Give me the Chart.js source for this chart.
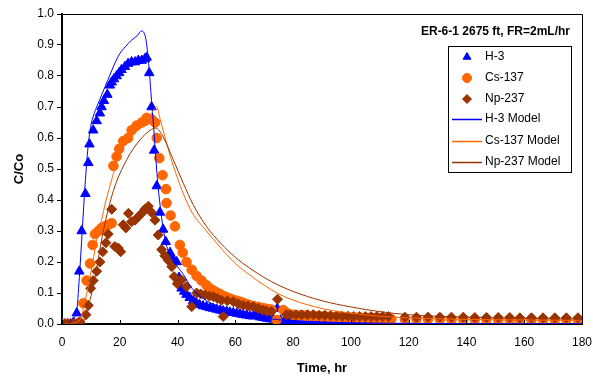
<!DOCTYPE html>
<html>
<head>
<meta charset="utf-8">
<script src="https://cdn.jsdelivr.net/npm/chart.js@4/dist/chart.umd.min.js"></script>
<style>
  html, body { margin: 0; padding: 0; background: #fff; }
  #wrap { width: 593px; height: 379px; position: relative; }
</style>
</head>
<body>
<div id="wrap"><canvas id="breakthroughChart"></canvas></div>
<script>
const chartTitle = "ER-6-1 2675 ft, FR=2mL/hr";
const xTicks = [0, 20, 40, 60, 80, 100, 120, 140, 160, 180];
const yTicks = [0.0, 0.1, 0.2, 0.3, 0.4, 0.5, 0.6, 0.7, 0.8, 0.9, 1.0];

// measured data
const h3Time = [0, 1, 2, 3, 4, 5.1, 6.0, 6.8, 8.1, 9.1, 9.5, 10.8, 12.0, 13.1, 13.7, 14.5, 15.7, 16.6, 17.2, 18.0,
    18.9, 19.8, 20.6, 21.8, 22.9, 24.1, 25.3, 26.4, 27.6, 28.7, 29.3, 30.2, 31.0, 31.9, 32.8, 33.9, 35.0, 35.9, 37.4, 38.5,
    39.7, 40.5, 41.4, 42.3, 43.1, 44.2, 45.4, 46.5, 47.6, 48.8, 50, 51.2, 52.3, 53.5, 54.7, 55.8, 57, 58.1, 59.3, 60.5,
    61.6, 62.7, 63.9, 65.1, 66.2, 67.4, 68.5, 69.7, 70.8, 72, 73.2, 74.5, 75.6, 77, 78.5, 80, 82, 84, 86, 88,
    90, 92, 94, 96, 98, 100, 102, 104, 106, 108, 110, 114, 118.7, 122.7, 126.7, 130.8, 134.8, 138.9, 142.9, 146.9,
    151, 155, 158.5, 162.5, 166.5, 170.6, 174.6, 178.6];
const h3Conc = [0, 0, 0, 0, 0.005, 0.035, 0.17, 0.30, 0.42, 0.52, 0.58, 0.625, 0.655, 0.68, 0.70, 0.72, 0.74, 0.77, 0.78, 0.79,
    0.80, 0.81, 0.82, 0.83, 0.84, 0.845, 0.845, 0.85, 0.85, 0.855, 0.86, 0.81, 0.70, 0.56, 0.445, 0.36, 0.305, 0.265, 0.23, 0.21,
    0.20, 0.15, 0.115, 0.105, 0.095, 0.085, 0.075, 0.068, 0.062, 0.058, 0.055, 0.052, 0.05, 0.047, 0.044, 0.042, 0.04, 0.038, 0.036, 0.034,
    0.032, 0.030, 0.028, 0.026, 0.025, 0.035, 0.022, 0.02, 0.018, 0.016, 0.015, 0.05, 0.012, 0.01, 0.008, 0.007, 0.006, 0.005, 0.005, 0.004,
    0.004, 0.003, 0.003, 0.003, 0.002, 0.002, 0.002, 0.002, 0.002, 0.002, 0.002, 0.001, 0, 0, 0, 0, 0, 0, 0, 0,
    0, 0, 0, 0, 0, 0, 0, 0];

const csTime = [0, 1, 2, 3, 4, 5, 6, 7.4, 8.5, 9.7, 10.6, 11.4, 12.6, 13.7, 14.9, 16.0, 17.2, 17.8, 18.9, 19.8,
    21.2, 22.9, 24.1, 25.8, 27.6, 28.7, 29.3, 31.0, 32.2, 32.8, 33.7, 34.8, 36.0, 36.2, 37.6, 39.1, 40.8, 41.8, 43.1, 44.9,
    46.6, 48.3, 50, 51.2, 52.4, 53.5, 54.7, 56, 57, 58.1, 59.3, 60.5, 61.6, 62.8, 64, 65.1, 66.3, 67.9, 69, 70.2,
    71.4, 72.5, 74.3, 76.6, 78, 80, 82, 84, 86, 88, 90, 92, 94, 96, 98, 100, 102, 104, 106, 108,
    110, 112, 114, 118.7, 122.7, 126.7, 130.8, 134.8, 138.9, 142.9, 146.9, 151, 155, 158.5, 162.5, 166.5, 170.6, 174.6, 178.6];
const csConc = [0, 0, 0, 0, 0, 0, 0.005, 0.067, 0.14, 0.195, 0.255, 0.29, 0.30, 0.31, 0.315, 0.32, 0.325, 0.51, 0.54, 0.565,
    0.59, 0.60, 0.625, 0.64, 0.65, 0.655, 0.665, 0.66, 0.65, 0.60, 0.535, 0.48, 0.435, 0.39, 0.35, 0.315, 0.255, 0.23, 0.20, 0.175,
    0.155, 0.14, 0.125, 0.115, 0.108, 0.102, 0.097, 0.09, 0.086, 0.082, 0.078, 0.075, 0.072, 0.068, 0.064, 0.06, 0.058, 0.055, 0.052, 0.05,
    0.048, 0.046, 0.013, 0.045, 0.035, 0.03, 0.028, 0.027, 0.026, 0.025, 0.024, 0.023, 0.022, 0.022, 0.021, 0.02, 0.02, 0.019, 0.019, 0.018,
    0.018, 0.017, 0.016, 0.015, 0.015, 0.015, 0.014, 0.014, 0.014, 0.014, 0.014, 0.013, 0.013, 0.013, 0.013, 0.013, 0.013, 0.013, 0.013];

const npTime = [0, 1, 2, 3, 4, 5, 6.2, 8.3, 9.1, 9.9, 10.8, 12.0, 13.1, 14.1, 15.2, 16.0, 17.2, 18.3, 19.5, 20.3,
    21.2, 22.1, 23.0, 24.1, 25.3, 26.4, 27.6, 28.7, 29.9, 31.0, 32.2, 33.3, 34.5, 35.6, 36.8, 38.0, 38.8, 39.9, 41.4, 43.1,
    44.9, 46.6, 48, 49.5, 51, 52.4, 53.8, 55.2, 55.8, 57.2, 59.3, 61, 62.7, 64.4, 66.2, 68, 69.5, 70.8, 72.5, 74.6,
    77.7, 79, 81, 83, 85, 87, 89, 91, 93, 95, 97, 99, 101, 103, 105, 107, 109, 111, 113, 118.7,
    122.7, 126.7, 130.8, 134.8, 138.9, 142.9, 146.9, 151, 155, 158.5, 162.5, 166.5, 170.6, 174.6, 178.6];
const npConc = [0, 0, 0, 0, 0, 0, 0.007, 0.03, 0.06, 0.115, 0.14, 0.17, 0.20, 0.233, 0.262, 0.29, 0.37, 0.25, 0.245, 0.233,
    0.32, 0.31, 0.357, 0.33, 0.335, 0.346, 0.357, 0.37, 0.38, 0.36, 0.335, 0.287, 0.24, 0.22, 0.205, 0.185, 0.153, 0.13, 0.142, 0.12,
    0.056, 0.10, 0.097, 0.094, 0.09, 0.088, 0.082, 0.077, 0.024, 0.075, 0.072, 0.065, 0.06, 0.058, 0.056, 0.05, 0.045, 0.042, 0.04, 0.08,
    0.03, 0.03, 0.03, 0.03, 0.03, 0.03, 0.028, 0.028, 0.027, 0.026, 0.025, 0.025, 0.024, 0.024, 0.024, 0.024, 0.024, 0.024, 0.024, 0.022,
    0.022, 0.022, 0.022, 0.022, 0.022, 0.021, 0.021, 0.021, 0.021, 0.02, 0.02, 0.02, 0.02, 0.02, 0.02];

// model curves
const h3ModelTime = [0, 2, 3, 4, 5, 6, 7, 8, 9, 10, 11, 12, 14, 16, 18, 20, 22, 24, 26, 27.5,
    29, 30, 31, 32, 33, 34, 35, 36, 37, 38, 40, 42, 45, 50, 55, 60, 70, 80, 100, 120, 140, 160, 180];
const h3ModelConc = [0, 0, 0.01, 0.02, 0.035, 0.15, 0.3, 0.45, 0.57, 0.64, 0.675, 0.70, 0.745, 0.79, 0.835, 0.872, 0.895, 0.915, 0.93, 0.945,
    0.92, 0.84, 0.72, 0.6, 0.47, 0.38, 0.31, 0.26, 0.23, 0.21, 0.185, 0.16, 0.115, 0.075, 0.055, 0.042, 0.02, 0.01, 0.004, 0.002, 0.001, 0.001, 0.001];

const csModelTime = [0, 6, 8, 10, 12, 13.7, 15, 17.2, 19.5, 23.5, 28, 31, 32.8, 34, 36, 38, 40, 42, 45, 50,
    55, 60, 65, 70, 75, 80, 90, 100, 110, 120, 140, 160, 180];
const csModelConc = [0, 0.01, 0.075, 0.165, 0.27, 0.335, 0.39, 0.465, 0.54, 0.60, 0.64, 0.68, 0.70, 0.66, 0.59, 0.525, 0.47, 0.42, 0.36, 0.30,
    0.245, 0.195, 0.158, 0.125, 0.097, 0.077, 0.05, 0.035, 0.025, 0.02, 0.015, 0.013, 0.012];

const npModelTime = [0, 7, 8, 10.8, 14.3, 17.8, 22.4, 27, 31, 32.5, 35, 38.5, 42, 45.4, 50, 55, 60, 65, 70, 75,
    80, 90, 100, 110, 120, 140, 160, 180];
const npModelConc = [0, 0, 0.024, 0.12, 0.30, 0.43, 0.53, 0.594, 0.628, 0.632, 0.604, 0.53, 0.454, 0.385, 0.315, 0.26, 0.215, 0.18, 0.15, 0.125,
    0.105, 0.075, 0.055, 0.04, 0.03, 0.022, 0.018, 0.016];

const FONT = "'Liberation Sans', Arial, sans-serif";

function toPoints(xs, ys) {
    const pts = [];
    for (let i = 0; i < xs.length; i++) {
        pts.push({ x: xs[i], y: ys[i] });
    }
    return pts;
}

// title + legend drawn inside the plot, plus inner x ticks and frame
const decorPlugin = {
    id: 'decor',
    afterDraw(chart) {
        const ctx = chart.ctx;
        const ca = chart.chartArea;
        const xs = chart.scales.x;
        ctx.save();

        // frame
        ctx.strokeStyle = '#000';
        ctx.lineWidth = 1;
        ctx.beginPath();
        ctx.moveTo(ca.left, ca.top + 0.5);
        ctx.lineTo(ca.right + 0.5, ca.top + 0.5);
        ctx.lineTo(ca.right + 0.5, ca.bottom);
        ctx.stroke();

        // inner x ticks
        xTicks.forEach(function (t) {
            const px = Math.round(xs.getPixelForValue(t)) + 0.5;
            ctx.beginPath();
            ctx.moveTo(px, ca.bottom);
            ctx.lineTo(px, ca.bottom - 4);
            ctx.stroke();
        });

        // title
        ctx.fillStyle = '#000';
        ctx.font = "bold 12px " + FONT;
        ctx.textAlign = 'right';
        ctx.textBaseline = 'middle';
        ctx.fillText(chartTitle, ca.right - 12, ca.top + 18);

        // legend box
        const bx = ca.right - 134, by = ca.top + 32, bw = 123, bh = 126;
        ctx.fillStyle = '#fff';
        ctx.fillRect(bx, by, bw, bh);
        ctx.strokeStyle = '#000';
        ctx.strokeRect(bx + 0.5, by + 0.5, bw, bh);

        const rows = [11, 32, 53, 73, 95, 116];
        chart.data.datasets.forEach(function (ds, i) {
            const cy = by + rows[i];
            if (ds.showLine) {
                ctx.strokeStyle = ds.borderColor;
                ctx.lineWidth = 1.5;
                ctx.beginPath();
                ctx.moveTo(bx + 4, cy + 0.5);
                ctx.lineTo(bx + 34, cy + 0.5);
                ctx.stroke();
            } else {
                ctx.fillStyle = ds.backgroundColor;
                ctx.strokeStyle = ds.borderColor;
                ctx.lineWidth = 1;
                Chart.helpers.drawPoint(ctx, {
                    pointStyle: ds.pointStyle,
                    radius: 4.5,
                    rotation: 0,
                    borderWidth: 1
                }, bx + 19, cy);
            }
            ctx.fillStyle = '#000';
            ctx.font = "12px " + FONT;
            ctx.textAlign = 'left';
            ctx.textBaseline = 'middle';
            ctx.fillText(ds.label, bx + 37, cy);
        });
        ctx.restore();
    }
};

new Chart(document.getElementById('breakthroughChart'), {
    type: 'scatter',
    data: {
        datasets: [
            {
                label: 'H-3',
                data: toPoints(h3Time, h3Conc),
                pointStyle: 'triangle',
                pointRadius: 5.5,
                backgroundColor: '#0000FF',
                borderColor: '#0000FF',
                borderWidth: 1,
                order: 6
            },
            {
                label: 'Cs-137',
                data: toPoints(csTime, csConc),
                pointStyle: 'circle',
                pointRadius: 4.8,
                backgroundColor: '#FF6600',
                borderColor: '#FF6600',
                borderWidth: 1,
                order: 5
            },
            {
                label: 'Np-237',
                data: toPoints(npTime, npConc),
                pointStyle: 'rectRot',
                pointRadius: 5,
                backgroundColor: '#993300',
                borderColor: '#993300',
                borderWidth: 1,
                order: 4
            },
            {
                label: 'H-3 Model',
                data: toPoints(h3ModelTime, h3ModelConc),
                showLine: true,
                pointRadius: 0,
                borderColor: '#0000FF',
                backgroundColor: '#0000FF',
                borderWidth: 1,
                cubicInterpolationMode: 'monotone',
                order: 3
            },
            {
                label: 'Cs-137 Model',
                data: toPoints(csModelTime, csModelConc),
                showLine: true,
                pointRadius: 0,
                borderColor: '#FF6600',
                backgroundColor: '#FF6600',
                borderWidth: 1,
                cubicInterpolationMode: 'monotone',
                order: 2
            },
            {
                label: 'Np-237 Model',
                data: toPoints(npModelTime, npModelConc),
                showLine: true,
                pointRadius: 0,
                borderColor: '#993300',
                backgroundColor: '#993300',
                borderWidth: 1,
                cubicInterpolationMode: 'monotone',
                order: 1
            }
        ]
    },
    options: {
        responsive: true,
        maintainAspectRatio: false,
        animation: false,
        layout: { padding: { left: 0, right: 11, top: 14, bottom: 0 } },
        plugins: {
            legend: { display: false },
            tooltip: { enabled: false }
        },
        scales: {
            x: {
                type: 'linear',
                min: 0,
                max: 180,
                afterBuildTicks: function (scale) {
                    scale.ticks = xTicks.map(function (v) { return { value: v }; });
                },
                afterFit: function (scale) {
                    scale.height = 55;
                    scale.paddingLeft = 0;
                    scale.paddingRight = 0;
                },
                border: { color: '#000', width: 2 },
                grid: { display: true, drawOnChartArea: false, drawTicks: false },
                ticks: {
                    color: '#000',
                    padding: 11,
                    font: { family: FONT, size: 12 },
                    maxRotation: 0
                },
                title: {
                    display: true,
                    text: 'Time, hr',
                    color: '#000',
                    font: { family: FONT, size: 13, weight: 'bold' },
                    padding: { top: 4, bottom: 3 }
                }
            },
            y: {
                type: 'linear',
                min: 0,
                max: 1,
                afterBuildTicks: function (scale) {
                    scale.ticks = yTicks.map(function (v) { return { value: v }; });
                },
                afterFit: function (scale) {
                    scale.width = 62;
                    scale.paddingTop = 0;
                    scale.paddingBottom = 0;
                },
                border: { color: '#000', width: 2 },
                grid: { display: true, drawOnChartArea: false, drawTicks: true, tickLength: 5, color: '#000' },
                ticks: {
                    color: '#000',
                    padding: 3,
                    font: { family: FONT, size: 12 },
                    callback: function (value) { return Number(value).toFixed(1); }
                },
                title: {
                    display: true,
                    text: 'C/Co',
                    color: '#000',
                    font: { family: FONT, size: 13, weight: 'bold' },
                    padding: { top: 12, bottom: 4 }
                }
            }
        }
    },
    plugins: [decorPlugin]
});
</script>
</body>
</html>
